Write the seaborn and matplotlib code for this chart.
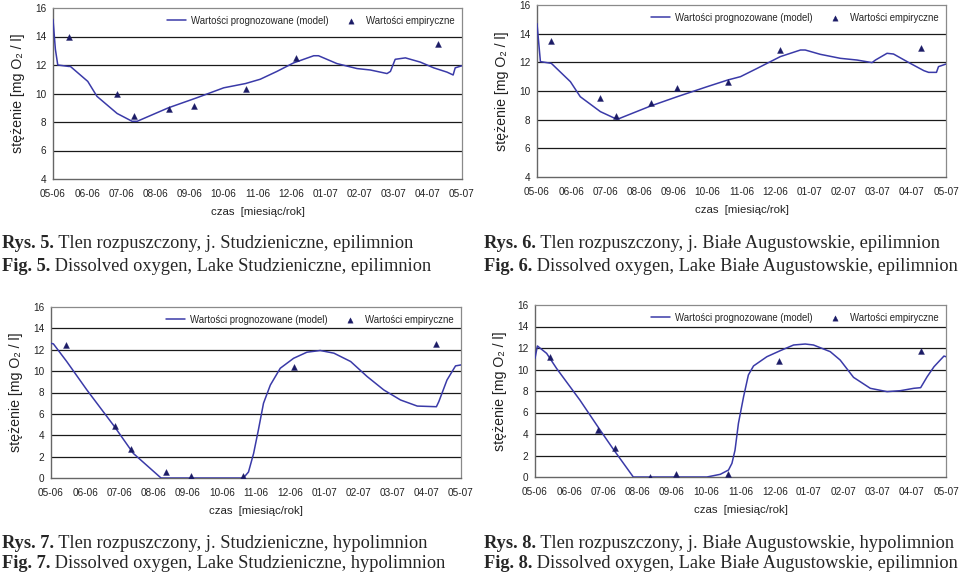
import numpy as np
import pandas as pd
import matplotlib
matplotlib.use("Agg")
import matplotlib.pyplot as plt
import seaborn as sns

sns.set_theme(style="white")
plt.rcParams['font.family'] = ['Liberation Sans', 'DejaVu Sans']

month_labels = ["05-06", "06-06", "07-06", "08-06", "09-06", "10-06", "11-06",
                "12-06", "01-07", "02-07", "03-07", "04-07", "05-07"]

# ---- Rys. 5 (Studzieniczne, epilimnion) ----
r5_model_x = [0.0, 0.07, 0.14, 0.46, 0.51, 1.02, 1.29, 1.88, 2.32, 2.47, 3.39, 4.22, 5.01,
              5.65, 6.08, 6.57, 7.06, 7.65, 7.79, 8.33, 8.92, 9.31, 9.80, 9.90, 10.04,
              10.34, 10.78, 11.17, 11.56, 11.74, 11.80, 12.0]
r5_model_y = [15.2, 13.1, 12.0, 11.9, 11.9, 10.85, 9.8, 8.6, 8.05, 8.05, 9.0, 9.7, 10.4,
              10.7, 11.0, 11.55, 12.15, 12.65, 12.65, 12.1, 11.75, 11.65, 11.4, 11.55, 12.4,
              12.5, 12.2, 11.8, 11.5, 11.3, 11.8, 11.95]
r5_emp_x = [0.46, 1.88, 2.37, 3.39, 4.13, 5.65, 7.12, 11.30]
r5_emp_y = [14.0, 10.0, 8.4, 8.9, 9.15, 10.35, 12.5, 13.5]

# ---- Rys. 6 (Białe Augustowskie, epilimnion) ----
r6_model_x = [0.0, 0.10, 0.42, 0.98, 1.27, 1.86, 2.35, 3.33, 4.11, 4.99, 5.60, 5.97,
              6.46, 7.14, 7.73, 7.87, 8.31, 8.90, 9.39, 9.83, 9.93, 10.27, 10.46, 10.95,
              11.35, 11.49, 11.72, 11.78, 12.0]
r6_model_y = [14.7, 12.05, 11.93, 10.65, 9.6, 8.56, 8.02, 8.95, 9.6, 10.3, 10.77, 11.0,
              11.58, 12.4, 12.86, 12.86, 12.56, 12.28, 12.16, 11.98, 12.16, 12.63, 12.58,
              11.93, 11.42, 11.3, 11.3, 11.7, 11.88]
r6_emp_x = [0.42, 1.86, 2.33, 3.35, 4.11, 5.59, 7.12, 11.28]
r6_emp_y = [13.49, 9.49, 8.23, 9.19, 10.19, 10.65, 12.86, 12.98]

# ---- Rys. 7 (Studzieniczne, hypolimnion) ----
r7_model_x = [0.0, 0.07, 0.46, 1.05, 1.86, 2.41, 3.22, 5.63, 5.78, 5.93, 6.07, 6.22,
              6.42, 6.71, 7.10, 7.49, 7.88, 8.28, 8.77, 9.25, 9.74, 10.23, 10.72, 11.28,
              11.35, 11.59, 11.84, 12.0]
r7_model_y = [12.6, 12.55, 10.9, 8.24, 4.8, 2.3, 0.0, 0.0, 0.56, 2.3, 4.5, 7.0,
              8.7, 10.27, 11.2, 11.77, 11.93, 11.68, 10.9, 9.5, 8.24, 7.3, 6.73, 6.67,
              7.14, 9.17, 10.49, 10.58]
r7_emp_x = [0.43, 1.86, 2.33, 3.36, 4.10, 5.62, 7.11, 11.28]
r7_emp_y = [12.46, 4.85, 2.76, 0.53, 0.16, 0.16, 10.36, 12.56]

# ---- Rys. 8 (Białe Augustowskie, hypolimnion) ----
r8_model_x = [0.0, 0.07, 0.34, 0.63, 1.31, 1.90, 2.29, 2.87, 5.02, 5.41, 5.65, 5.75,
              5.84, 5.94, 6.09, 6.23, 6.38, 6.77, 7.16, 7.55, 7.89, 8.13, 8.62, 8.91,
              9.30, 9.79, 10.28, 10.67, 11.06, 11.26, 11.45, 11.65, 11.94, 12.0]
r8_model_y = [11.04, 12.19, 11.5, 10.1, 7.16, 4.37, 2.57, 0.0, 0.0, 0.25, 0.65, 1.27,
              2.5, 5.0, 7.47, 9.49, 10.33, 11.19, 11.75, 12.28, 12.37, 12.28, 11.66, 10.88,
              9.27, 8.25, 7.94, 8.03, 8.25, 8.31, 9.33, 10.26, 11.25, 11.19]
r8_emp_x = [0.44, 1.85, 2.34, 3.36, 4.12, 5.64, 7.11, 11.28]
r8_emp_y = [11.13, 4.4, 2.7, 0.0, 0.28, 0.28, 10.79, 11.72]

captions = [
    ("Rys. 5.", " Tlen rozpuszczony, j. Studzieniczne, epilimnion",
     "Fig. 5.", " Dissolved oxygen, Lake Studzieniczne, epilimnion"),
    ("Rys. 6.", " Tlen rozpuszczony, j. Białe Augustowskie, epilimnion",
     "Fig. 6.", " Dissolved oxygen, Lake Białe Augustowskie, epilimnion"),
    ("Rys. 7.", " Tlen rozpuszczony, j. Studzieniczne, hypolimnion",
     "Fig. 7.", " Dissolved oxygen, Lake Studzieniczne, hypolimnion"),
    ("Rys. 8.", " Tlen rozpuszczony, j. Białe Augustowskie, hypolimnion",
     "Fig. 8.", " Dissolved oxygen, Lake Białe Augustowskie, epilimnion"),
]

LINE_C = "#3a3aa8"
MARK_C = "#1b1b66"

fig = plt.figure(figsize=(9.6, 5.75), dpi=100)
fig.patch.set_facecolor("white")

panels = [
    (r5_model_x, r5_model_y, r5_emp_x, r5_emp_y, [53, 8, 462, 179], (4, 16)),
    (r6_model_x, r6_model_y, r6_emp_x, r6_emp_y, [537, 5, 946, 177], (4, 16)),
    (r7_model_x, r7_model_y, r7_emp_x, r7_emp_y, [51, 307, 461, 478], (0, 16)),
    (r8_model_x, r8_model_y, r8_emp_x, r8_emp_y, [535, 305, 946, 477], (0, 16)),
]

W, H = 960.0, 575.0
for mx, my, ex, ey, (l, t, r, b), (y0, y1) in panels:
    ax = fig.add_axes([l / W, 1 - b / H, (r - l) / W, (b - t) / H])
    dfm = pd.DataFrame({"x": mx, "y": my})
    dfe = pd.DataFrame({"x": ex, "y": ey})
    for yy in range(y0 + 2, y1, 2):
        ax.axhline(yy, color="#1a1a1a", lw=0.9, zorder=1)
    sns.lineplot(data=dfm, x="x", y="y", ax=ax, color=LINE_C, lw=1.1,
                 label="Wartości prognozowane (model)", zorder=3)
    sns.scatterplot(data=dfe, x="x", y="y", ax=ax, color=MARK_C, marker="^",
                    s=18, edgecolor=MARK_C, linewidth=0.3,
                    label="Wartości empiryczne", zorder=4)
    ax.set_xlim(0, 12)
    ax.set_ylim(y0, y1)
    ax.set_xticks(range(13))
    ax.set_xticklabels(month_labels)
    ax.set_yticks(range(y0, y1 + 1, 2))
    ax.tick_params(axis="both", labelsize=7.2, colors="#222222", length=3,
                   width=0.8, direction="out", pad=2)
    ax.tick_params(axis="x", pad=4)
    for side in ["top", "right"]:
        ax.spines[side].set_color("#8a8a8a")
        ax.spines[side].set_linewidth(0.9)
    for side in ["left", "bottom"]:
        ax.spines[side].set_color("#666666")
        ax.spines[side].set_linewidth(1.0)
    ax.set_xlabel("czas  [miesiąc/rok]", fontsize=8.2, color="#222222", labelpad=6)
    ax.set_ylabel("stężenie [mg O₂ / l]", fontsize=10.2,
                  color="#222222", labelpad=7)
    leg = ax.legend(loc="upper right", ncol=2, frameon=False, fontsize=6.9,
                    handlelength=2.0, columnspacing=1.4, handletextpad=0.5,
                    borderaxespad=0.4, markerscale=0.9)

# captions
renderer = fig.canvas.get_renderer()
cap_pos = [(2, 243, 266), (484, 243, 266), (2, 543, 563), (484, 543, 563)]
for (b1, n1, b2, n2), (x, y1, y2) in zip(captions, cap_pos):
    for bt, nt, yy in [(b1, n1, y1), (b2, n2, y2)]:
        t1 = fig.text(x / W, 1 - yy / H, bt, fontsize=13.2, fontweight="bold",
                      family="Liberation Serif", va="center", ha="left")
        bb = t1.get_window_extent(renderer=renderer)
        fig.text(bb.x1 / W, 1 - yy / H, nt, fontsize=13.2,
                 family="Liberation Serif", va="center", ha="left")

fig.savefig("out.png", dpi=100, facecolor="white")
